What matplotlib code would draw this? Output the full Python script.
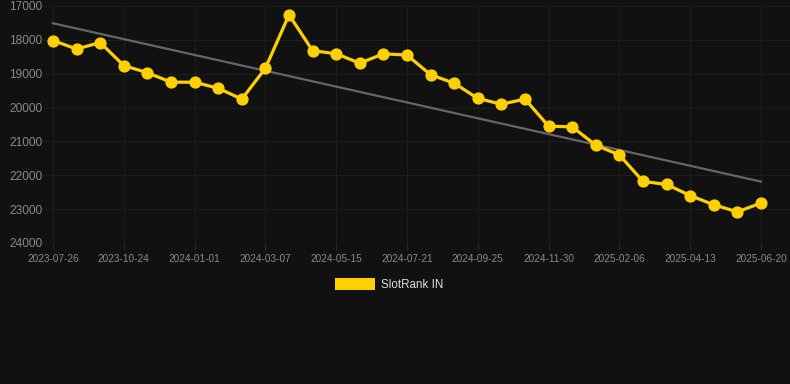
import matplotlib
matplotlib.use("Agg")
import matplotlib.pyplot as plt
import numpy as np
from matplotlib.patches import Rectangle

plt.rcParams['font.family'] = ['Liberation Sans', 'DejaVu Sans']

dates = ["2023-07-26", "2023-08-25", "2023-09-24", "2023-10-24", "2023-11-16", "2023-12-09",
         "2024-01-01", "2024-01-23", "2024-02-14", "2024-03-07", "2024-03-30", "2024-04-22",
         "2024-05-15", "2024-06-06", "2024-06-28", "2024-07-21", "2024-08-12", "2024-09-03",
         "2024-09-25", "2024-10-17", "2024-11-08", "2024-11-30", "2024-12-23", "2025-01-14",
         "2025-02-06", "2025-02-28", "2025-03-22", "2025-04-13", "2025-05-06", "2025-05-28",
         "2025-06-20"]
ranks = [18020, 18270, 18080, 18760, 18970, 19250, 19250, 19430, 19750, 18840, 17260, 18320,
         18410, 18690, 18410, 18450, 19030, 19280, 19730, 19900, 19750, 20550, 20570, 21110,
         21400, 22180, 22270, 22600, 22870, 23080, 22820]
yticks = [17000, 18000, 19000, 20000, 21000, 22000, 23000, 24000]
series_name = "SlotRank IN"

bg = "#111111"
W, H = 790, 384
fig = plt.figure(figsize=(W / 100, H / 100), dpi=100, facecolor=bg)
left, right, top, bottom = 44, 790, 6, 243
ax = fig.add_axes([left / W, 1 - bottom / H, (right - left) / W, (bottom - top) / H])
ax.set_facecolor(bg)

x = np.arange(len(dates))
coef = np.polyfit(x, ranks, 1)
trend = np.polyval(coef, x)

ax.plot(x, trend, color="#666666", lw=1.6, zorder=2)
ax.plot(x, ranks, color="#FFD000", lw=2.3, marker="o", markersize=7.8,
        markerfacecolor="#FFD000", markeredgecolor="#FFD000", zorder=3)

step = 23.6
ax.set_xlim(-(53 - left) / step, (right - 53) / step)
ax.set_ylim(24000, 17000)
ax.set_yticks(yticks)
ax.set_yticklabels([str(v) for v in yticks])
tick_idx = list(range(0, len(dates), 3))
ax.set_xticks(tick_idx)
ax.set_xticklabels([dates[i] for i in tick_idx])

ax.grid(True, color="#1e1e1e", lw=0.8)
ax.set_axisbelow(True)
for s in ax.spines.values():
    s.set_visible(False)
ax.tick_params(axis='y', length=0, pad=1, labelsize=8.6, labelcolor="#8a8a8a")
ax.tick_params(axis='x', length=5, width=0.8, color="#2a2a2a", pad=3, labelsize=7.2,
               labelcolor="#8a8a8a")

# legend
fig.patches.append(Rectangle((335 / W, 1 - 290 / H), 40 / W, 12 / H, transform=fig.transFigure,
                             facecolor="#FFD000", edgecolor="none"))
fig.text(381 / W, 1 - 284.5 / H, series_name, color="#dddddd", fontsize=8.4,
         ha="left", va="center")

fig.savefig("out.png", dpi=100, facecolor=bg)
